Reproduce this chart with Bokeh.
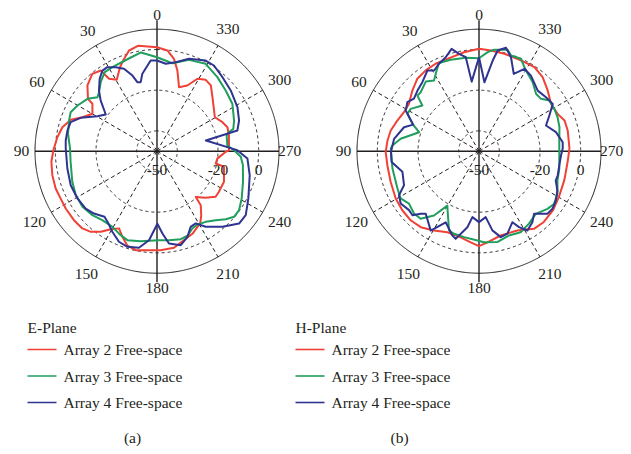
import numpy as np
from bokeh.plotting import figure
from bokeh.models import Range1d
from bokeh.core.properties import value
from bokeh.embed import file_html
from bokeh.resources import INLINE

# ---------------- data ----------------
ANGLE_TICKS = [0, 30, 60, 90, 120, 150, 180, 210, 240, 270, 300, 330]
RADIAL_LABELS = [-50, -20, 0]
GRID_CIRCLES = [-40, -20, 0]
R_MIN, R_MAX = -50, 10

SERIES_NAMES = ["Array 2 Free-space", "Array 3 Free-space", "Array 4 Free-space"]
PANEL_TITLES = ["E-Plane", "H-Plane"]
PANEL_TAGS = ["(a)", "(b)"]

# E-plane (angle in degrees, gain in dB)
E_A2_ANG = [0, 10, 15.5, 19.7, 23.8, 29.4, 33.5, 34.9, 39.9, 46.6, 52.8, 53.7, 59.9, 65.5, 70, 75.8, 82, 89.6,
            95.7, 102.9, 110.2, 116.2, 122.1, 129.7, 136, 140.6, 145.1, 149.3, 153.8, 158, 162.6, 167.9, 173.5,
            182, 190, 195.8, 203.2, 211, 214.5, 219, 220.3, 226, 232.2, 236.8, 245.5, 257, 258.2, 263, 269.5,
            270.6, 282.3, 288.8, 293.9, 300.4, 314.3, 320.7, 325.7, 330.8, 335.2, 341, 345.8, 349.6, 354.1]
E_A2_DB = [1.1, 2.7, 1.4, -1.8, -4.9, -9.7, -7.3, -1.6, -0.4, -2.9, -7.4, -10.6, -13.3, -9.7, -4.9, -2.0, -0.5, 1.0,
           2.2, 2.8, 3.1, 2.8, 3.0, 3.1, 2.8, 1.3, -1.7, -5.4, -7.7, -4.6, -1.3, -0.2, -1.0,
           -1.3, -1.8, -4.0, -5.8, -8.7, -11.6, -15.8, -20.5, -17.0, -13.5, -13.6, -13.8, -16.2, -20.5, -20.1, -16.2,
           -14.6, -13.8, -13.4, -14.8, -17.0, -11.9, -8.2, -7.5, -9.2, -14.4, -16.7, -9.1, -3.8, -0.2]

E_A3_ANG = [0, 9.2, 16.6, 28, 33.5, 39.2, 44.5, 47.8, 53, 60.1, 65.7, 70.8, 78.9, 88.2, 96.9, 109.9, 118.4, 126.7,
            134.7, 141.6, 149.5, 156.6, 161.6, 169.7, 180.8, 187.7, 195.1, 199.8, 204.6, 208.9, 214.6, 220.4, 225.3,
            229.6, 234.3, 240.8, 250.4, 260.8, 266.2, 270.7, 274.6, 282.7, 284.8, 286.3, 291.7, 302.2, 311.5, 320.8,
            330.9, 340.7, 350.1]
E_A3_DB = [-3.8, -0.8, -2.3, -3.2, -3.4, -6.2, -9.3, -10.5, -7.2, -4.9, -3.4, -4.2, -5.4, -7.2, -7.2, -5.7, -4.6, -4.3,
           -5.3, -6.7, -6.8, -5.0, -3.9, -5.0, -6.2, -5.8, -5.2, -5.8, -8.2, -8.8, -7.8, -5.4, -2.4,
           -0.2, -0.3, -2.3, -5.1, -7.2, -8.7, -12.1, -15.3, -14.9, -13.4, -10.9, -9.2, -6.2, -4.9, -3.0,
           -0.8, -2.4, -6.1]

E_A4_ANG = [0, 4, 10.7, 13.3, 15.9, 18, 21.8, 26.2, 30.6, 34.1, 38.4, 43.7, 48, 54.4, 59.6, 66.4, 71.4, 77, 83.3,
            88.3, 100.9, 111.5, 120.7, 128.8, 134.7, 141.3, 146, 151, 157.2, 162.8, 169.4, 174.9, 180.3, 183.8,
            187.4, 194.2, 199.6, 204, 208.2, 212.8, 220.9, 228.6, 234.2, 242.6, 255.5, 265.4, 270.7, 273.3, 282.4,
            284.4, 290.5, 298.7, 309.5, 318.5, 326.4, 331.8, 340.9, 348.1, 354.3]
E_A4_DB = [-5.4, -5.3, -11.2, -15.1, -14.7, -10.9, -6.3, -4.0, -2.0, -2.1, -4.6, -8.7, -12.7, -19.0, -16.0, -9.0, -5.2,
           -4.8, -4.8, -5.1, -5.1, -4.4, -4.5, -5.0, -6.4, -8.7, -7.2, -4.7, -1.7, -0.8, -1.7, -6.0, -14.3, -9.4,
           -4.2, -2.3, -5.3, -9.3, -9.7, -5.8, -0.8, 3.8, 3.8, 0.6, -2.9, -5.4, -10.5, -15.3, -25.4,
           -9.2, -6.9, -4.9, -3.0, -1.4, 0.6, 0.6, -1.9, -5.3, -6.8]

# H-plane
H_A2_ANG = [0, 8.6, 18.9, 26.4, 33.4, 40.4, 47.7, 55.9, 62.5, 69.4, 76.8, 83.3, 90.6, 98.7, 109.1, 119.6, 127.6,
            135.3, 142.5, 150.4, 158.7, 168, 174.8, 180, 185.3, 194.4, 205.8, 215.3, 222.5, 231.7, 240.6, 251.3,
            263.2, 271.7, 283.1, 289.8, 295.4, 303.4, 311.5, 319.3, 326.6, 335.2, 345.4, 353.2]
H_A2_DB = [0.4, -0.8, -2.0, -2.0, -2.4, -3.2, -5.7, -8.4, -8.4, -7.1, -5.4, -4.7, -4.1, -4.4, -4.0, -2.9, -2.4,
           -2.2, -2.9, -5.1, -7.2, -6.7, -5.0, -3.3, -5.0, -7.2, -6.7, -3.2, -2.8, -3.5, -4.8, -5.7,
           -6.1, -5.5, -5.2, -5.3, -7.2, -7.6, -4.9, -2.0, -0.5, -0.8, -0.5, -0.1]

H_A3_ANG = [0, 8.1, 17.2, 24.4, 27.7, 32.5, 37.4, 44.7, 47.9, 51.1, 58.2, 62.4, 67.6, 72.4, 81, 86.2, 88.2, 101.3,
            114.6, 121.1, 126.8, 133.8, 139.2, 145, 149.8, 155.2, 159.3, 163.2, 170.1, 179, 183.1, 191.4, 199.6,
            207.2, 214.6, 222.2, 229.9, 234.9, 241.5, 249.5, 257.9, 269.3, 278.3, 286.6, 293.4, 299.4, 305.8,
            310.2, 315.2, 322.1, 329.8, 335.6, 341.5, 344.2, 351.4, 355]
H_A3_DB = [-4.3, -3.6, -2.9, -2.4, -5.2, -8.8, -6.9, -9.2, -9.2, -14.2, -10.5, -10.3, -14.6, -19.1, -11.0, -7.3,
           -6.6, -6.6, -5.9, -5.0, -7.0, -5.7, -6.1, -11.4, -19.0, -13.8, -8.3, -7.6, -7.1, -6.1, -5.2, -4.4,
           -6.0, -5.2, -6.7, -8.4, -6.0, -4.9, -6.1, -8.8, -9.6, -10.5, -10.1, -8.7, -7.9, -7.5, -7.3,
           -10.1, -10.2, -7.0, -4.1, -0.1, -0.4, 1.8, 0.5, -1.1]

H_A4_ANG = [0, 6, 8, 11.6, 15, 19.5, 24.6, 29.1, 32.6, 39.4, 45.4, 51.1, 55.6, 61, 68, 72.3, 81.7, 90.6, 97, 105,
            114.4, 118.8, 123.7, 130.1, 133.9, 137, 139.6, 148.7, 154.9, 162.5, 165.1, 171.3, 174.3, 180, 185.8,
            189.6, 194.2, 199, 205.2, 207.8, 211.4, 216.9, 221.3, 227.5, 231.9, 237.3, 243.4, 249.1, 253, 260.1,
            267.2, 271.8, 276.1, 283.9, 291, 296.9, 302.7, 308.9, 315.9, 325.5, 331.1, 335.8, 341.2, 345.4,
            349.5, 351.4, 355.5]
H_A4_DB = [-3.8, -15.6, -3.3, -1.1, 2.1, -1.0, -2.7, -4.6, -2.9, -6.1, -7.5, -8.9, -7.3, -8.8, -15.1, -11.3, -7.8,
           -6.7, -6.7, -11.0, -9.5, -5.1, -3.7, -5.0, -4.6, -7.9, -9.6, -4.3, -11.4, -6.5, -5.4, -12.2, -17.4,
           -15.1, -17.4, -10.5, -6.4, -7.1, -11.4, -7.8, -4.3, -6.3, -9.0, -4.4, -4.1, -5.1, -6.9, -9.6, -9.5,
           -9.9, -9.6, -8.8, -8.6, -11.0, -14.7, -11.2, -6.9, -7.7, -8.5, -4.9, -3.7, -8.3, -1.2, 2.6, 0.4,
           -4.9, -16.0]

PANEL_DATA = [
    [(E_A2_ANG, E_A2_DB), (E_A3_ANG, E_A3_DB), (E_A4_ANG, E_A4_DB)],
    [(H_A2_ANG, H_A2_DB), (H_A3_ANG, H_A3_DB), (H_A4_ANG, H_A4_DB)],
]

# ---------------- styling / layout ----------------
COLORS = ["#ef4136", "#1f9e5c", "#2f3490"]
INK = "#231f20"
FONT = value("Liberation Serif")
FS = "15.5px"
W, H = 623, 446
CENTERS = [(156.5, 150.7), (478.5, 150.7)]
RPX = 122.0
LEGEND_X = [27, 295]


def label_dist(a):
    # distance of an angle label's centre from the plot centre (pixels)
    if a in (0, 180):
        return 136.5
    if a == 90:
        return 135.5
    if a == 270:
        return 132.5
    return 141.5 if len(str(a)) == 3 else 138.5


p = figure(width=W, height=H, x_range=Range1d(0, W), y_range=Range1d(H, 0),
           output_backend="svg", toolbar_location=None, x_axis_type=None, y_axis_type=None,
           min_border=0)
p.outline_line_color = None
p.background_fill_color = "white"
p.border_fill_color = "white"


def rad(db):
    return (np.asarray(db, dtype=float) - R_MIN) / (R_MAX - R_MIN) * RPX


def polar_xy(cx, cy, ang, r):
    t = np.radians(np.asarray(ang, dtype=float))
    return cx - r * np.sin(t), cy - r * np.cos(t)


full = np.linspace(0, 360, 721)
for k, (cx, cy) in enumerate(CENTERS):
    # dotted grid circles
    for g in GRID_CIRCLES:
        x, y = polar_xy(cx, cy, full, rad(g) * np.ones_like(full))
        p.line(x, y, line_color=INK, line_width=1, line_dash="3 3")
    # outer circle
    x, y = polar_xy(cx, cy, full, RPX * np.ones_like(full))
    p.line(x, y, line_color=INK, line_width=1)
    # spokes
    for a in ANGLE_TICKS:
        if a % 90 == 0:
            continue
        x, y = polar_xy(cx, cy, [a, a], np.array([0.0, RPX]))
        p.line(x, y, line_color=INK, line_width=1, line_dash="4 3")
    # solid main axes
    p.line([cx, cx], [cy - 131, cy + 131], line_color=INK, line_width=1.4)
    p.line([cx - RPX, cx + RPX], [cy, cy], line_color=INK, line_width=1.4)

    # curves
    for (ang, db), col in zip(PANEL_DATA[k], COLORS):
        a = list(ang) + [ang[0] + 360]
        d = list(db) + [db[0]]
        x, y = polar_xy(cx, cy, a, rad(d))
        p.line(x, y, line_color=col, line_width=2, line_join="round")

    # angle labels, placed just outside the outer circle
    lxs, lys = [], []
    for a in ANGLE_TICKS:
        lx, ly = polar_xy(cx, cy, [a], label_dist(a))
        lxs.append(float(lx[0]))
        lys.append(float(ly[0]))
    p.text(x=lxs, y=lys, text=[str(a) for a in ANGLE_TICKS], text_font=FONT,
           text_font_size=FS, text_align="center", text_baseline="middle", text_color=INK)
    # radial labels
    rx = [cx + float(rad(v)) for v in RADIAL_LABELS]
    p.text(x=rx, y=[cy + 19] * len(RADIAL_LABELS), text=[str(v) for v in RADIAL_LABELS],
           text_font=FONT, text_font_size=FS, text_align="center", text_baseline="middle",
           text_color=INK)

    # legend
    x0 = LEGEND_X[k]
    p.text(x=[x0], y=[327], text=[PANEL_TITLES[k]], text_font=FONT, text_font_size=FS,
           text_align="left", text_baseline="middle", text_color=INK)
    for i, (name, col) in enumerate(zip(SERIES_NAMES, COLORS)):
        yy = 349 + i * 26.5
        p.line([x0, x0 + 29], [yy, yy], line_color=col, line_width=1.6)
        p.text(x=[x0 + 36], y=[yy], text=[name], text_font=FONT, text_font_size=FS,
               text_align="left", text_baseline="middle", text_color=INK)
    # panel tag
    p.text(x=[132 + k * 267], y=[436.5], text=[PANEL_TAGS[k]], text_font=FONT, text_font_size=FS,
           text_align="center", text_baseline="middle", text_color=INK)

open("out.html", "w").write(file_html(p, INLINE))
